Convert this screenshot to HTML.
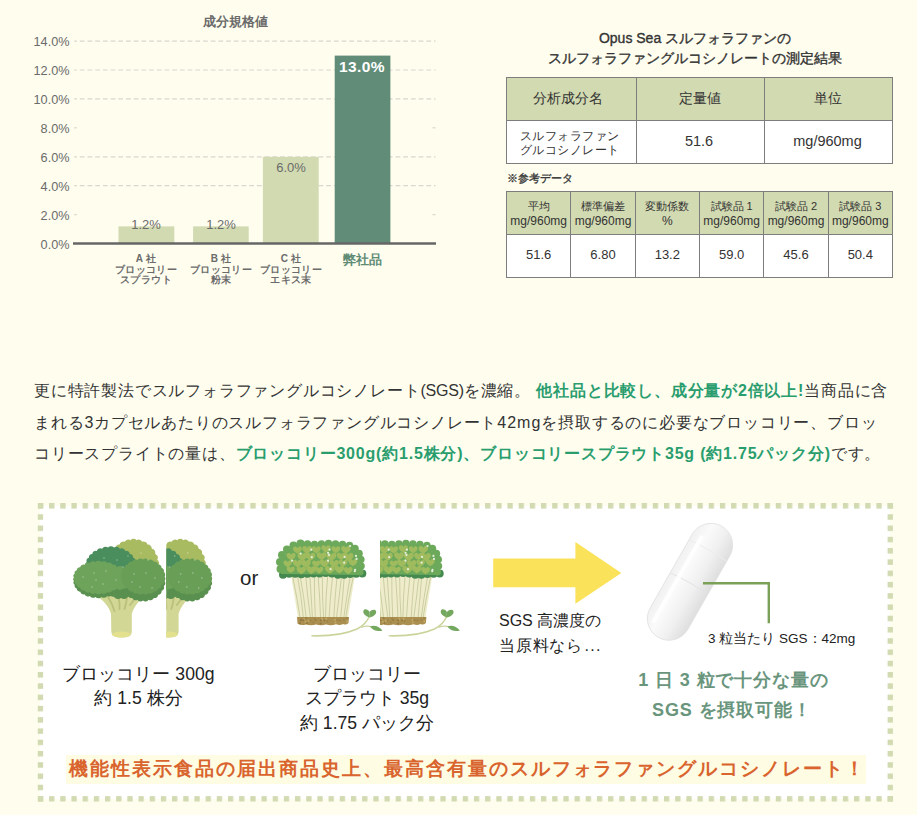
<!DOCTYPE html>
<html lang="ja">
<head>
<meta charset="utf-8">
<style>
html,body{margin:0;padding:0;}
body{width:917px;height:815px;overflow:hidden;position:relative;background:#fefdee;font-family:"Liberation Sans",sans-serif;color:#333;}
.a{position:absolute;white-space:nowrap;}
.c{text-align:center;}
svg{position:absolute;left:0;top:0;}
/* chart */
.yl{position:absolute;right:847.5px;font-size:12.7px;line-height:14px;color:#6b6b6b;text-align:right;}
.xl{position:absolute;width:90px;text-align:center;font-size:10px;letter-spacing:0.35px;text-indent:0.35px;line-height:10.5px;font-weight:bold;color:#6b6b6b;}
/* tables */
table{border-collapse:collapse;position:absolute;table-layout:fixed;}
td{border:1px solid #7d7d7d;text-align:center;padding:0;color:#333;}
.hd td{background:#d2dab1;}
.bd td{background:#fff;}
#t1 td{font-size:14px;}
#t1 .bd td{font-size:14.5px;padding-bottom:3px;}
#t1 .bd td.k{font-size:12.4px;letter-spacing:0.5px;line-height:14px;padding-bottom:0;padding-top:1px;padding-right:4px;}
#t2 td{font-size:11px;line-height:15px;padding-top:2px;}
#t2 td span{font-size:12px;}
#t2 .bd td{font-size:13px;padding-top:0;padding-bottom:3px;}
/* paragraph */
.p{position:absolute;left:34px;font-size:16px;letter-spacing:0.8px;color:#333;line-height:31.5px;white-space:nowrap;}
.g{color:#2a9d6e;font-weight:bold;}
/* box */
.box{position:absolute;left:40px;top:505.6px;width:850px;height:293.4px;background:#fff;}
.dt{position:absolute;background-repeat:repeat-x;}
</style>
</head>
<body>
<!-- chart -->
<svg width="460" height="300" viewBox="0 0 460 300">
 <g stroke="#d8d8cf" stroke-width="1.2" stroke-dasharray="4.8 2.9" stroke-dashoffset="2.1">
  <line x1="74.2" y1="41.1" x2="435.5" y2="41.1"/>
  <line x1="74.2" y1="70" x2="435.5" y2="70"/>
  <line x1="74.2" y1="98.9" x2="435.5" y2="98.9"/>
  <line x1="74.2" y1="156.8" x2="435.5" y2="156.8"/>
  <line x1="74.2" y1="185.7" x2="435.5" y2="185.7"/>
 </g>
 <g stroke="#d8d8cf" stroke-width="1.2">
  <line x1="74.2" y1="127.8" x2="76.9" y2="127.8"/>
  <line x1="432.5" y1="127.8" x2="435.5" y2="127.8"/>
  <line x1="74.2" y1="214.6" x2="76.9" y2="214.6"/>
  <line x1="432.5" y1="214.6" x2="435.5" y2="214.6"/>
 </g>
 <rect x="118.5" y="226.4" width="55.8" height="17.2" fill="#d1dab0"/>
 <rect x="193.1" y="226.4" width="55.6" height="17.2" fill="#d1dab0"/>
 <rect x="262.9" y="156.9" width="55.8" height="86.7" fill="#d1dab0"/>
 <rect x="334.7" y="55.6" width="55.7" height="188" fill="#618d78"/>
 <line x1="73" y1="243.6" x2="436" y2="243.6" stroke="#666" stroke-width="2.5"/>
</svg>
<div class="a c" style="left:185px;width:100px;top:14px;font-size:13px;line-height:16px;font-weight:bold;color:#6b6b6b">成分規格値</div>
<div class="yl" style="top:35px">14.0%</div>
<div class="yl" style="top:64px">12.0%</div>
<div class="yl" style="top:93px">10.0%</div>
<div class="yl" style="top:122px">8.0%</div>
<div class="yl" style="top:151px">6.0%</div>
<div class="yl" style="top:180px">4.0%</div>
<div class="yl" style="top:209px">2.0%</div>
<div class="yl" style="top:238px">0.0%</div>
<div class="a c" style="left:116px;width:60px;top:218px;font-size:13px;line-height:14px;color:#6b6b6b">1.2%</div>
<div class="a c" style="left:191px;width:60px;top:218px;font-size:13px;line-height:14px;color:#6b6b6b">1.2%</div>
<div class="a c" style="left:261px;width:60px;top:161px;font-size:13px;line-height:14px;color:#6b6b6b">6.0%</div>
<div class="a c" style="left:332px;width:60px;top:58px;font-size:15.5px;letter-spacing:0.4px;line-height:17px;font-weight:bold;color:#fff">13.0%</div>
<div class="xl" style="left:101px;top:254px">A 社<br>ブロッコリー<br>スプラウト</div>
<div class="xl" style="left:176px;top:254px">B 社<br>ブロッコリー<br>粉末</div>
<div class="xl" style="left:246px;top:254px">C 社<br>ブロッコリー<br>エキス末</div>
<div class="a c" style="left:317px;width:90px;top:251.5px;font-size:13px;line-height:16px;font-weight:bold;color:#5f8b75">弊社品</div>

<!-- right tables -->
<div class="a c" style="left:545px;width:300px;top:29px;font-size:14px;line-height:19.5px;-webkit-text-stroke:0.35px #333;color:#333">Opus Sea スルフォラファンの<br>スルフォラファングルコシノレートの測定結果</div>
<table id="t1" style="left:506px;top:77px;width:386px;">
 <colgroup><col style="width:130px"><col style="width:128px"><col style="width:128px"></colgroup>
 <tr class="hd" style="height:43px"><td style="padding-right:7.6px">分析成分名</td><td style="padding-right:2px">定量値</td><td style="padding-right:2px">単位</td></tr>
 <tr class="bd" style="height:43px"><td class="k">スルフォラファン<br>グルコシノレート</td><td style="padding-right:3px">51.6</td><td style="padding-right:2px">mg/960mg</td></tr>
</table>
<div class="a" style="left:507px;top:171px;font-size:11px;line-height:14px;-webkit-text-stroke:0.3px #333;color:#333">※参考データ</div>
<table id="t2" style="left:506px;top:191px;width:386px;">
 <colgroup><col style="width:64.33px"><col style="width:64.33px"><col style="width:64.33px"><col style="width:64.33px"><col style="width:64.33px"><col style="width:64.33px"></colgroup>
 <tr class="hd" style="height:43px"><td>平均<br><span>mg/960mg</span></td><td>標準偏差<br><span>mg/960mg</span></td><td>変動係数<br><span>%</span></td><td>試験品 1<br><span>mg/960mg</span></td><td>試験品 2<br><span>mg/960mg</span></td><td>試験品 3<br><span>mg/960mg</span></td></tr>
 <tr class="bd" style="height:43px"><td>51.6</td><td>6.80</td><td>13.2</td><td>59.0</td><td>45.6</td><td>50.4</td></tr>
</table>

<!-- paragraph -->
<div class="p" style="top:375px">更に特許製法でスルフォラファングルコシノレート<span style="letter-spacing:-0.2px">(SGS)</span>を濃縮。 <span class="g">他社品と比較し、成分量が2倍以上!</span>当商品に含<br>まれる3カプセルあたりのスルフォラファングルコシノレート<span style="letter-spacing:1px">42mg</span>を摂取するのに必要なブロッコリー、ブロッ<br>コリースプライトの量は、<span class="g">ブロッコリー300g(約1.5株分)、ブロッコリースプラウト35g (約1.75パック分)</span>です。</div>

<!-- box -->
<div class="box"></div>
<svg width="917" height="815" viewBox="0 0 917 815" style="left:0;top:0">
 <defs>
  <pattern id="ph" x="37.9" y="0" width="11.18" height="20" patternUnits="userSpaceOnUse"><rect x="0" y="0" width="5.3" height="20" fill="#d2dab2"/></pattern>
  <pattern id="pv" x="0" y="503" width="20" height="11.27" patternUnits="userSpaceOnUse"><rect x="0" y="0" width="20" height="5.5" fill="#d2dab2"/></pattern>
 </defs>
 <rect x="37.9" y="503" width="856" height="5.6" fill="url(#ph)"/>
 <rect x="37.9" y="796.1" width="856" height="5.4" fill="url(#ph)"/>
 <rect x="37.8" y="503" width="5.3" height="299" fill="url(#pv)"/>
 <rect x="887.6" y="503" width="5.3" height="299" fill="url(#pv)"/>
</svg>
<!--ILLUS--><svg width="917" height="815" viewBox="0 0 917 815" style="left:0;top:0">
<defs>
 <g id="broc"><path d="M94 594 C103 600 109 606 111 614 L111.3 632 Q111.5 637.5 121.5 637.5 Q131.8 637.5 131.8 632 L131.8 614 C134 606 140 600 146 594 Z" fill="#d2d796"/>
<ellipse cx="121.5" cy="634.5" rx="9.5" ry="3" fill="#e3e08e"/>
<path d="M108 597 Q112 603 114.5 611 M118.5 597 Q120 603 119.5 609 M127 597 Q126.5 603 124.5 609 M137 596 Q133 601 130 605" stroke="#b9c07a" stroke-width="1.8" fill="none" stroke-linecap="round"/>
<path d="M158.0 566.0 A4.1 4.1 0 0 1 157.3 572.2 A4.0 4.0 0 0 1 155.2 578.1 A4.0 4.0 0 0 1 151.8 583.2 A3.9 3.9 0 0 1 147.4 587.4 A3.9 3.9 0 0 1 142.2 590.3 A3.9 3.9 0 0 1 136.5 591.8 A3.8 3.8 0 0 1 130.5 591.8 A3.9 3.9 0 0 1 124.8 590.3 A3.9 3.9 0 0 1 119.6 587.4 A3.9 3.9 0 0 1 115.2 583.2 A4.0 4.0 0 0 1 111.8 578.1 A4.0 4.0 0 0 1 109.7 572.2 A4.1 4.1 0 0 1 109.0 566.0 A4.1 4.1 0 0 1 109.7 559.8 A4.0 4.0 0 0 1 111.8 553.9 A4.0 4.0 0 0 1 115.2 548.8 A3.9 3.9 0 0 1 119.6 544.6 A3.9 3.9 0 0 1 124.8 541.7 A3.9 3.9 0 0 1 130.5 540.2 A3.8 3.8 0 0 1 136.5 540.2 A3.9 3.9 0 0 1 142.2 541.7 A3.9 3.9 0 0 1 147.4 544.6 A3.9 3.9 0 0 1 151.8 548.8 A4.0 4.0 0 0 1 155.2 553.9 A4.0 4.0 0 0 1 157.3 559.8 A4.1 4.1 0 0 1 158.0 566.0Z" fill="#a8bb60"/>
<path d="M136.0 566.5 A3.0 3.0 0 0 1 135.3 571.0 A3.1 3.1 0 0 1 133.1 575.3 A3.3 3.3 0 0 1 129.7 579.1 A3.5 3.5 0 0 1 125.2 582.1 A3.7 3.7 0 0 1 119.9 584.3 A3.9 3.9 0 0 1 114.0 585.4 A3.9 3.9 0 0 1 108.0 585.4 A3.9 3.9 0 0 1 102.1 584.3 A3.7 3.7 0 0 1 96.8 582.1 A3.5 3.5 0 0 1 92.3 579.1 A3.3 3.3 0 0 1 88.9 575.3 A3.1 3.1 0 0 1 86.7 571.0 A3.0 3.0 0 0 1 86.0 566.5 A3.0 3.0 0 0 1 86.7 562.0 A3.1 3.1 0 0 1 88.9 557.7 A3.3 3.3 0 0 1 92.3 553.9 A3.5 3.5 0 0 1 96.8 550.9 A3.7 3.7 0 0 1 102.1 548.7 A3.9 3.9 0 0 1 108.0 547.6 A3.9 3.9 0 0 1 114.0 547.6 A3.9 3.9 0 0 1 119.9 548.7 A3.7 3.7 0 0 1 125.2 550.9 A3.5 3.5 0 0 1 129.7 553.9 A3.3 3.3 0 0 1 133.1 557.7 A3.1 3.1 0 0 1 135.3 562.0 A3.0 3.0 0 0 1 136.0 566.5Z" fill="#4b8e5e"/>
<path d="M123.0 581.0 A2.5 2.5 0 0 1 122.3 584.8 A2.7 2.7 0 0 1 120.2 588.4 A3.0 3.0 0 0 1 116.8 591.6 A3.3 3.3 0 0 1 112.4 594.2 A3.6 3.6 0 0 1 107.2 596.0 A3.8 3.8 0 0 1 101.5 596.9 A3.8 3.8 0 0 1 95.5 596.9 A3.8 3.8 0 0 1 89.8 596.0 A3.6 3.6 0 0 1 84.6 594.2 A3.3 3.3 0 0 1 80.2 591.6 A3.0 3.0 0 0 1 76.8 588.4 A2.7 2.7 0 0 1 74.7 584.8 A2.5 2.5 0 0 1 74.0 581.0 A2.5 2.5 0 0 1 74.7 577.2 A2.7 2.7 0 0 1 76.8 573.6 A3.0 3.0 0 0 1 80.2 570.4 A3.3 3.3 0 0 1 84.6 567.8 A3.6 3.6 0 0 1 89.8 566.0 A3.8 3.8 0 0 1 95.5 565.1 A3.8 3.8 0 0 1 101.5 565.1 A3.8 3.8 0 0 1 107.2 566.0 A3.6 3.6 0 0 1 112.4 567.8 A3.3 3.3 0 0 1 116.8 570.4 A3.0 3.0 0 0 1 120.2 573.6 A2.7 2.7 0 0 1 122.3 577.2 A2.5 2.5 0 0 1 123.0 581.0Z" fill="#5a904f"/>
<path d="M164.5 581.0 A3.3 3.3 0 0 1 163.8 586.0 A3.4 3.4 0 0 1 161.6 590.8 A3.4 3.4 0 0 1 158.2 594.8 A3.5 3.5 0 0 1 153.8 597.9 A3.6 3.6 0 0 1 148.6 599.8 A3.6 3.6 0 0 1 143.0 600.5 A3.6 3.6 0 0 1 137.4 599.8 A3.6 3.6 0 0 1 132.2 597.9 A3.5 3.5 0 0 1 127.8 594.8 A3.4 3.4 0 0 1 124.4 590.8 A3.4 3.4 0 0 1 122.2 586.0 A3.3 3.3 0 0 1 121.5 581.0 A3.3 3.3 0 0 1 122.2 576.0 A3.4 3.4 0 0 1 124.4 571.2 A3.4 3.4 0 0 1 127.8 567.2 A3.5 3.5 0 0 1 132.2 564.1 A3.6 3.6 0 0 1 137.4 562.2 A3.6 3.6 0 0 1 143.0 561.5 A3.6 3.6 0 0 1 148.6 562.2 A3.6 3.6 0 0 1 153.8 564.1 A3.5 3.5 0 0 1 158.2 567.2 A3.4 3.4 0 0 1 161.6 571.2 A3.4 3.4 0 0 1 163.8 576.0 A3.3 3.3 0 0 1 164.5 581.0Z" fill="#5a904f"/>
<path d="M135.0 588.0 A3.5 3.5 0 0 1 133.1 593.0 A4.1 4.1 0 0 1 128.0 596.7 A4.6 4.6 0 0 1 121.0 598.0 A4.6 4.6 0 0 1 114.0 596.7 A4.1 4.1 0 0 1 108.9 593.0 A3.5 3.5 0 0 1 107.0 588.0 A3.5 3.5 0 0 1 108.9 583.0 A4.1 4.1 0 0 1 114.0 579.3 A4.6 4.6 0 0 1 121.0 578.0 A4.6 4.6 0 0 1 128.0 579.3 A4.1 4.1 0 0 1 133.1 583.0 A3.5 3.5 0 0 1 135.0 588.0Z" fill="#5a904f"/>
<path d="M123.0 577.5 A2.5 2.5 0 0 1 122.3 581.2 A2.6 2.6 0 0 1 120.2 584.7 A3.0 3.0 0 0 1 116.8 587.8 A3.3 3.3 0 0 1 112.4 590.3 A3.6 3.6 0 0 1 107.2 592.0 A3.8 3.8 0 0 1 101.5 592.9 A3.8 3.8 0 0 1 95.5 592.9 A3.8 3.8 0 0 1 89.8 592.0 A3.6 3.6 0 0 1 84.6 590.3 A3.3 3.3 0 0 1 80.2 587.8 A3.0 3.0 0 0 1 76.8 584.7 A2.6 2.6 0 0 1 74.7 581.2 A2.5 2.5 0 0 1 74.0 577.5 A2.5 2.5 0 0 1 74.7 573.8 A2.6 2.6 0 0 1 76.8 570.3 A3.0 3.0 0 0 1 80.2 567.2 A3.3 3.3 0 0 1 84.6 564.7 A3.6 3.6 0 0 1 89.8 563.0 A3.8 3.8 0 0 1 95.5 562.1 A3.8 3.8 0 0 1 101.5 562.1 A3.8 3.8 0 0 1 107.2 563.0 A3.6 3.6 0 0 1 112.4 564.7 A3.3 3.3 0 0 1 116.8 567.2 A3.0 3.0 0 0 1 120.2 570.3 A2.6 2.6 0 0 1 122.3 573.8 A2.5 2.5 0 0 1 123.0 577.5Z" fill="#6ea35b"/>
<path d="M130.0 578.0 A4.4 4.4 0 0 1 128.1 584.5 A4.2 4.2 0 0 1 123.1 588.5 A4.0 4.0 0 0 1 116.9 588.5 A4.2 4.2 0 0 1 111.9 584.5 A4.4 4.4 0 0 1 110.0 578.0 A4.4 4.4 0 0 1 111.9 571.5 A4.2 4.2 0 0 1 116.9 567.5 A4.0 4.0 0 0 1 123.1 567.5 A4.2 4.2 0 0 1 128.1 571.5 A4.4 4.4 0 0 1 130.0 578.0Z" fill="#6ea35b"/>
<path d="M164.5 576.5 A2.9 2.9 0 0 1 163.8 580.9 A3.0 3.0 0 0 1 161.6 585.0 A3.2 3.2 0 0 1 158.2 588.5 A3.4 3.4 0 0 1 153.8 591.2 A3.5 3.5 0 0 1 148.6 592.9 A3.6 3.6 0 0 1 143.0 593.5 A3.6 3.6 0 0 1 137.4 592.9 A3.5 3.5 0 0 1 132.2 591.2 A3.4 3.4 0 0 1 127.8 588.5 A3.2 3.2 0 0 1 124.4 585.0 A3.0 3.0 0 0 1 122.2 580.9 A2.9 2.9 0 0 1 121.5 576.5 A2.9 2.9 0 0 1 122.2 572.1 A3.0 3.0 0 0 1 124.4 568.0 A3.2 3.2 0 0 1 127.8 564.5 A3.4 3.4 0 0 1 132.2 561.8 A3.5 3.5 0 0 1 137.4 560.1 A3.6 3.6 0 0 1 143.0 559.5 A3.6 3.6 0 0 1 148.6 560.1 A3.5 3.5 0 0 1 153.8 561.8 A3.4 3.4 0 0 1 158.2 564.5 A3.2 3.2 0 0 1 161.6 568.0 A3.0 3.0 0 0 1 163.8 572.1 A2.9 2.9 0 0 1 164.5 576.5Z" fill="#699e57"/>
<circle cx="83" cy="577" r="0.7" fill="#ffffff" opacity="0.45"/>
<circle cx="94" cy="573" r="0.7" fill="#ffffff" opacity="0.45"/>
<circle cx="106" cy="571" r="0.7" fill="#ffffff" opacity="0.45"/>
<circle cx="116" cy="580" r="0.7" fill="#ffffff" opacity="0.45"/>
<circle cx="92" cy="587" r="0.7" fill="#ffffff" opacity="0.45"/>
<circle cx="103" cy="584" r="0.7" fill="#ffffff" opacity="0.45"/>
<circle cx="123" cy="567" r="0.7" fill="#ffffff" opacity="0.45"/>
<circle cx="134" cy="574" r="0.7" fill="#ffffff" opacity="0.45"/>
<circle cx="146" cy="573" r="0.7" fill="#ffffff" opacity="0.45"/>
<circle cx="155" cy="578" r="0.7" fill="#ffffff" opacity="0.45"/>
<circle cx="140" cy="587" r="0.7" fill="#ffffff" opacity="0.45"/>
<circle cx="152" cy="588" r="0.7" fill="#ffffff" opacity="0.45"/>
<circle cx="128" cy="556" r="0.7" fill="#ffffff" opacity="0.45"/>
<circle cx="141" cy="553" r="0.7" fill="#ffffff" opacity="0.45"/>
<circle cx="148" cy="560" r="0.7" fill="#ffffff" opacity="0.45"/>
<circle cx="104" cy="558" r="0.7" fill="#ffffff" opacity="0.45"/>
<circle cx="117" cy="560" r="0.7" fill="#ffffff" opacity="0.45"/>
<circle cx="96" cy="580" r="0.7" fill="#ffffff" opacity="0.45"/>
<circle cx="132" cy="582" r="0.7" fill="#ffffff" opacity="0.45"/></g>
 <g id="spr"><path d="M291 575 L355 575 L348 618 L298 618 Z" fill="#eeecca"/>
<path d="M292.7 577 Q297.0 597 300.0 617" stroke="#c6cb9e" stroke-width="0.9" fill="none"/>
<path d="M297.7 577 Q301.4 597 303.3 617" stroke="#c6cb9e" stroke-width="0.9" fill="none"/>
<path d="M300.3 577 Q304.1 597 306.1 617" stroke="#c6cb9e" stroke-width="0.9" fill="none"/>
<path d="M305.9 577 Q307.3 597 310.4 617" stroke="#c6cb9e" stroke-width="0.9" fill="none"/>
<path d="M309.9 577 Q311.2 597 312.4 617" stroke="#c6cb9e" stroke-width="0.9" fill="none"/>
<path d="M314.4 577 Q314.3 597 315.3 617" stroke="#c6cb9e" stroke-width="0.9" fill="none"/>
<path d="M318.2 577 Q319.9 597 320.5 617" stroke="#c6cb9e" stroke-width="0.9" fill="none"/>
<path d="M322.3 577 Q322.2 597 323.6 617" stroke="#c6cb9e" stroke-width="0.9" fill="none"/>
<path d="M327.6 577 Q325.6 597 325.6 617" stroke="#c6cb9e" stroke-width="0.9" fill="none"/>
<path d="M332.5 577 Q330.2 597 329.1 617" stroke="#c6cb9e" stroke-width="0.9" fill="none"/>
<path d="M337.0 577 Q335.0 597 333.8 617" stroke="#c6cb9e" stroke-width="0.9" fill="none"/>
<path d="M341.4 577 Q339.3 597 336.5 617" stroke="#c6cb9e" stroke-width="0.9" fill="none"/>
<path d="M344.2 577 Q342.8 597 340.7 617" stroke="#c6cb9e" stroke-width="0.9" fill="none"/>
<path d="M350.1 577 Q346.6 597 343.9 617" stroke="#c6cb9e" stroke-width="0.9" fill="none"/>
<path d="M353.2 577 Q348.8 597 345.8 617" stroke="#c6cb9e" stroke-width="0.9" fill="none"/>
<path d="M297 617 L349 617 L348.5 623 Q346 625.5 343 624 Q340 626 336 624.3 Q331 626 326 624.5 Q321 626 316 624.5 Q311 626 306 624.5 Q301 626 297.5 623.5 Z" fill="#ab8f50"/>
<circle cx="301.3" cy="619.5" r="1" fill="#9a8246"/>
<circle cx="327.3" cy="621.3" r="1" fill="#9a8246"/>
<circle cx="314.9" cy="619.6" r="1" fill="#c2a865"/>
<circle cx="322.0" cy="619.6" r="1" fill="#c2a865"/>
<circle cx="321.6" cy="618.8" r="1" fill="#c2a865"/>
<circle cx="346.8" cy="617.9" r="1" fill="#9a8246"/>
<circle cx="315.9" cy="620.1" r="1" fill="#9a8246"/>
<circle cx="337.4" cy="619.9" r="1" fill="#9a8246"/>
<circle cx="340.1" cy="620.4" r="1" fill="#9a8246"/>
<circle cx="307.0" cy="623.3" r="1" fill="#8e7840"/>
<circle cx="304.0" cy="619.2" r="1" fill="#c2a865"/>
<circle cx="315.2" cy="619.9" r="1" fill="#9a8246"/>
<circle cx="310.5" cy="620.5" r="1" fill="#9a8246"/>
<circle cx="335.4" cy="622.4" r="1" fill="#c2a865"/>
<circle cx="299.8" cy="623.3" r="1" fill="#8e7840"/>
<circle cx="308.4" cy="620.8" r="1" fill="#c2a865"/>
<circle cx="343.9" cy="619.8" r="1" fill="#9a8246"/>
<circle cx="325.3" cy="619.6" r="1" fill="#c2a865"/>
<circle cx="313.3" cy="622.4" r="1" fill="#9a8246"/>
<circle cx="305.4" cy="621.8" r="1" fill="#c2a865"/>
<circle cx="306.1" cy="618.1" r="1" fill="#9a8246"/>
<circle cx="324.7" cy="620.2" r="1" fill="#8e7840"/>
<circle cx="335.0" cy="619.8" r="1" fill="#c2a865"/>
<circle cx="320.8" cy="620.2" r="1" fill="#8e7840"/>
<circle cx="347.0" cy="621.5" r="1" fill="#c2a865"/>
<circle cx="314.7" cy="619.0" r="1" fill="#9a8246"/>
<circle cx="326.2" cy="618.6" r="1" fill="#c2a865"/>
<circle cx="303.3" cy="620.3" r="1" fill="#8e7840"/>
<circle cx="300.9" cy="620.2" r="1" fill="#8e7840"/>
<circle cx="320.7" cy="623.6" r="1" fill="#8e7840"/>
<circle cx="283.0" cy="574.8" r="4" fill="#44894f"/>
<circle cx="289.1" cy="573.7" r="4" fill="#44894f"/>
<circle cx="295.2" cy="573.8" r="4" fill="#44894f"/>
<circle cx="301.3" cy="574.3" r="4" fill="#44894f"/>
<circle cx="307.4" cy="573.8" r="4" fill="#44894f"/>
<circle cx="313.5" cy="573.4" r="4" fill="#44894f"/>
<circle cx="319.6" cy="573.6" r="4" fill="#44894f"/>
<circle cx="325.7" cy="573.1" r="4" fill="#44894f"/>
<circle cx="331.8" cy="573.6" r="4" fill="#44894f"/>
<circle cx="337.9" cy="574.8" r="4" fill="#44894f"/>
<circle cx="344.0" cy="574.7" r="4" fill="#44894f"/>
<circle cx="350.1" cy="574.1" r="4" fill="#44894f"/>
<circle cx="356.2" cy="573.8" r="4" fill="#44894f"/>
<circle cx="362.3" cy="573.5" r="4" fill="#44894f"/>
<polygon points="281.0,574.0 280.5,565.0 283.0,557.0 289.0,549.5 296.5,545.0 304.0,543.0 311.0,544.0 318.0,544.5 325.0,543.5 332.0,543.2 339.0,544.0 346.0,545.0 352.5,547.0 357.5,551.0 360.5,557.0 361.0,564.0 360.5,571.0 358.0,575.0" fill="#6ca95b"/>
<circle cx="280.5" cy="569.0" r="4.0" fill="#6ca95b"/>
<circle cx="280.0" cy="562.0" r="4.0" fill="#6ca95b"/>
<circle cx="282.0" cy="555.0" r="4.0" fill="#6ca95b"/>
<circle cx="287.0" cy="549.5" r="4.0" fill="#6ca95b"/>
<circle cx="293.5" cy="545.5" r="4.0" fill="#6ca95b"/>
<circle cx="300.5" cy="543.5" r="4.0" fill="#6ca95b"/>
<circle cx="307.5" cy="544.0" r="3.8" fill="#6ca95b"/>
<circle cx="314.5" cy="544.5" r="3.8" fill="#6ca95b"/>
<circle cx="321.5" cy="544.0" r="3.8" fill="#6ca95b"/>
<circle cx="328.5" cy="543.5" r="3.8" fill="#6ca95b"/>
<circle cx="335.5" cy="544.0" r="3.8" fill="#6ca95b"/>
<circle cx="342.5" cy="544.5" r="3.8" fill="#6ca95b"/>
<circle cx="349.5" cy="545.5" r="3.8" fill="#6ca95b"/>
<circle cx="355.0" cy="548.5" r="3.8" fill="#6ca95b"/>
<circle cx="359.0" cy="553.5" r="3.8" fill="#6ca95b"/>
<circle cx="360.8" cy="559.5" r="3.8" fill="#6ca95b"/>
<circle cx="361.0" cy="566.0" r="3.8" fill="#6ca95b"/>
<circle cx="360.0" cy="572.0" r="3.6" fill="#6ca95b"/>
<path transform="translate(297.4 549.2) scale(1.04)" d="M0 -1 C-1.2 -3.6 -4.8 -3 -4.2 0.3 C-3.7 2.2 -1.6 3.2 0 4.4 C1.6 3.2 3.7 2.2 4.2 0.3 C4.8 -3 1.2 -3.6 0 -1Z" fill="#a0bb5d"/>
<path transform="translate(307.1 549.0) scale(1.12)" d="M0 -1 C-1.2 -3.6 -4.8 -3 -4.2 0.3 C-3.7 2.2 -1.6 3.2 0 4.4 C1.6 3.2 3.7 2.2 4.2 0.3 C4.8 -3 1.2 -3.6 0 -1Z" fill="#a0bb5d"/>
<path transform="translate(316.3 549.0) scale(1.04)" d="M0 -1 C-1.2 -3.6 -4.8 -3 -4.2 0.3 C-3.7 2.2 -1.6 3.2 0 4.4 C1.6 3.2 3.7 2.2 4.2 0.3 C4.8 -3 1.2 -3.6 0 -1Z" fill="#a0bb5d"/>
<path transform="translate(326.0 548.1) scale(1.07)" d="M0 -1 C-1.2 -3.6 -4.8 -3 -4.2 0.3 C-3.7 2.2 -1.6 3.2 0 4.4 C1.6 3.2 3.7 2.2 4.2 0.3 C4.8 -3 1.2 -3.6 0 -1Z" fill="#a0bb5d"/>
<path transform="translate(335.8 548.9) scale(1.02)" d="M0 -1 C-1.2 -3.6 -4.8 -3 -4.2 0.3 C-3.7 2.2 -1.6 3.2 0 4.4 C1.6 3.2 3.7 2.2 4.2 0.3 C4.8 -3 1.2 -3.6 0 -1Z" fill="#a0bb5d"/>
<path transform="translate(345.9 548.8) scale(1.10)" d="M0 -1 C-1.2 -3.6 -4.8 -3 -4.2 0.3 C-3.7 2.2 -1.6 3.2 0 4.4 C1.6 3.2 3.7 2.2 4.2 0.3 C4.8 -3 1.2 -3.6 0 -1Z" fill="#a0bb5d"/>
<path transform="translate(291.1 555.8) scale(1.07)" d="M0 -1 C-1.2 -3.6 -4.8 -3 -4.2 0.3 C-3.7 2.2 -1.6 3.2 0 4.4 C1.6 3.2 3.7 2.2 4.2 0.3 C4.8 -3 1.2 -3.6 0 -1Z" fill="#a0bb5d"/>
<path transform="translate(302.4 555.8) scale(1.15)" d="M0 -1 C-1.2 -3.6 -4.8 -3 -4.2 0.3 C-3.7 2.2 -1.6 3.2 0 4.4 C1.6 3.2 3.7 2.2 4.2 0.3 C4.8 -3 1.2 -3.6 0 -1Z" fill="#a0bb5d"/>
<path transform="translate(310.5 555.8) scale(1.13)" d="M0 -1 C-1.2 -3.6 -4.8 -3 -4.2 0.3 C-3.7 2.2 -1.6 3.2 0 4.4 C1.6 3.2 3.7 2.2 4.2 0.3 C4.8 -3 1.2 -3.6 0 -1Z" fill="#a0bb5d"/>
<path transform="translate(321.6 555.2) scale(1.16)" d="M0 -1 C-1.2 -3.6 -4.8 -3 -4.2 0.3 C-3.7 2.2 -1.6 3.2 0 4.4 C1.6 3.2 3.7 2.2 4.2 0.3 C4.8 -3 1.2 -3.6 0 -1Z" fill="#a0bb5d"/>
<path transform="translate(331.3 555.9) scale(1.19)" d="M0 -1 C-1.2 -3.6 -4.8 -3 -4.2 0.3 C-3.7 2.2 -1.6 3.2 0 4.4 C1.6 3.2 3.7 2.2 4.2 0.3 C4.8 -3 1.2 -3.6 0 -1Z" fill="#a0bb5d"/>
<path transform="translate(341.2 555.5) scale(1.08)" d="M0 -1 C-1.2 -3.6 -4.8 -3 -4.2 0.3 C-3.7 2.2 -1.6 3.2 0 4.4 C1.6 3.2 3.7 2.2 4.2 0.3 C4.8 -3 1.2 -3.6 0 -1Z" fill="#a0bb5d"/>
<path transform="translate(348.4 556.2) scale(1.18)" d="M0 -1 C-1.2 -3.6 -4.8 -3 -4.2 0.3 C-3.7 2.2 -1.6 3.2 0 4.4 C1.6 3.2 3.7 2.2 4.2 0.3 C4.8 -3 1.2 -3.6 0 -1Z" fill="#a0bb5d"/>
<path transform="translate(287.7 563.0) scale(0.99)" d="M0 -1 C-1.2 -3.6 -4.8 -3 -4.2 0.3 C-3.7 2.2 -1.6 3.2 0 4.4 C1.6 3.2 3.7 2.2 4.2 0.3 C4.8 -3 1.2 -3.6 0 -1Z" fill="#a0bb5d"/>
<path transform="translate(297.4 562.7) scale(1.12)" d="M0 -1 C-1.2 -3.6 -4.8 -3 -4.2 0.3 C-3.7 2.2 -1.6 3.2 0 4.4 C1.6 3.2 3.7 2.2 4.2 0.3 C4.8 -3 1.2 -3.6 0 -1Z" fill="#a0bb5d"/>
<path transform="translate(306.0 562.7) scale(1.14)" d="M0 -1 C-1.2 -3.6 -4.8 -3 -4.2 0.3 C-3.7 2.2 -1.6 3.2 0 4.4 C1.6 3.2 3.7 2.2 4.2 0.3 C4.8 -3 1.2 -3.6 0 -1Z" fill="#a0bb5d"/>
<path transform="translate(316.2 562.9) scale(0.96)" d="M0 -1 C-1.2 -3.6 -4.8 -3 -4.2 0.3 C-3.7 2.2 -1.6 3.2 0 4.4 C1.6 3.2 3.7 2.2 4.2 0.3 C4.8 -3 1.2 -3.6 0 -1Z" fill="#a0bb5d"/>
<path transform="translate(324.4 562.4) scale(1.11)" d="M0 -1 C-1.2 -3.6 -4.8 -3 -4.2 0.3 C-3.7 2.2 -1.6 3.2 0 4.4 C1.6 3.2 3.7 2.2 4.2 0.3 C4.8 -3 1.2 -3.6 0 -1Z" fill="#a0bb5d"/>
<path transform="translate(334.2 562.9) scale(1.11)" d="M0 -1 C-1.2 -3.6 -4.8 -3 -4.2 0.3 C-3.7 2.2 -1.6 3.2 0 4.4 C1.6 3.2 3.7 2.2 4.2 0.3 C4.8 -3 1.2 -3.6 0 -1Z" fill="#a0bb5d"/>
<path transform="translate(343.2 562.4) scale(1.01)" d="M0 -1 C-1.2 -3.6 -4.8 -3 -4.2 0.3 C-3.7 2.2 -1.6 3.2 0 4.4 C1.6 3.2 3.7 2.2 4.2 0.3 C4.8 -3 1.2 -3.6 0 -1Z" fill="#a0bb5d"/>
<path transform="translate(352.9 561.8) scale(1.03)" d="M0 -1 C-1.2 -3.6 -4.8 -3 -4.2 0.3 C-3.7 2.2 -1.6 3.2 0 4.4 C1.6 3.2 3.7 2.2 4.2 0.3 C4.8 -3 1.2 -3.6 0 -1Z" fill="#a0bb5d"/>
<path transform="translate(290.8 568.9) scale(0.96)" d="M0 -1 C-1.2 -3.6 -4.8 -3 -4.2 0.3 C-3.7 2.2 -1.6 3.2 0 4.4 C1.6 3.2 3.7 2.2 4.2 0.3 C4.8 -3 1.2 -3.6 0 -1Z" fill="#a0bb5d"/>
<path transform="translate(301.3 569.3) scale(1.10)" d="M0 -1 C-1.2 -3.6 -4.8 -3 -4.2 0.3 C-3.7 2.2 -1.6 3.2 0 4.4 C1.6 3.2 3.7 2.2 4.2 0.3 C4.8 -3 1.2 -3.6 0 -1Z" fill="#a0bb5d"/>
<path transform="translate(311.3 569.0) scale(1.18)" d="M0 -1 C-1.2 -3.6 -4.8 -3 -4.2 0.3 C-3.7 2.2 -1.6 3.2 0 4.4 C1.6 3.2 3.7 2.2 4.2 0.3 C4.8 -3 1.2 -3.6 0 -1Z" fill="#a0bb5d"/>
<path transform="translate(319.1 569.3) scale(1.02)" d="M0 -1 C-1.2 -3.6 -4.8 -3 -4.2 0.3 C-3.7 2.2 -1.6 3.2 0 4.4 C1.6 3.2 3.7 2.2 4.2 0.3 C4.8 -3 1.2 -3.6 0 -1Z" fill="#a0bb5d"/>
<path transform="translate(329.9 568.7) scale(1.16)" d="M0 -1 C-1.2 -3.6 -4.8 -3 -4.2 0.3 C-3.7 2.2 -1.6 3.2 0 4.4 C1.6 3.2 3.7 2.2 4.2 0.3 C4.8 -3 1.2 -3.6 0 -1Z" fill="#a0bb5d"/>
<path transform="translate(339.4 568.6) scale(1.10)" d="M0 -1 C-1.2 -3.6 -4.8 -3 -4.2 0.3 C-3.7 2.2 -1.6 3.2 0 4.4 C1.6 3.2 3.7 2.2 4.2 0.3 C4.8 -3 1.2 -3.6 0 -1Z" fill="#a0bb5d"/>
<path transform="translate(348.2 569.6) scale(1.03)" d="M0 -1 C-1.2 -3.6 -4.8 -3 -4.2 0.3 C-3.7 2.2 -1.6 3.2 0 4.4 C1.6 3.2 3.7 2.2 4.2 0.3 C4.8 -3 1.2 -3.6 0 -1Z" fill="#a0bb5d"/>
<circle cx="344.6" cy="556.9" r="1.1" fill="#e6f0dc"/>
<circle cx="344.2" cy="562.7" r="1.1" fill="#e6f0dc"/>
<circle cx="311.3" cy="549.7" r="1.1" fill="#e6f0dc"/>
<circle cx="328.1" cy="560.7" r="1.1" fill="#e6f0dc"/>
<circle cx="354.8" cy="571.2" r="1.1" fill="#e6f0dc"/>
<circle cx="329.0" cy="555.1" r="1.1" fill="#e6f0dc"/>
<circle cx="350.1" cy="546.0" r="1.1" fill="#e6f0dc"/>
<circle cx="292.0" cy="560.7" r="1.1" fill="#e6f0dc"/>
<circle cx="329.5" cy="549.7" r="1.1" fill="#e6f0dc"/>
<circle cx="330.6" cy="569.2" r="1.1" fill="#e6f0dc"/>
<circle cx="311.8" cy="557.2" r="1.1" fill="#e6f0dc"/>
<circle cx="300.7" cy="553.6" r="1.1" fill="#e6f0dc"/>
<circle cx="356.0" cy="555.9" r="1.1" fill="#e6f0dc"/>
<circle cx="355.1" cy="569.8" r="1.1" fill="#e6f0dc"/>
<circle cx="328.1" cy="552.8" r="1.1" fill="#e6f0dc"/>
<circle cx="356.6" cy="558.9" r="1.1" fill="#e6f0dc"/>
<path d="M312 635.8 Q340 636.5 357 629 Q366 624.5 369.5 616" stroke="#cbd49c" stroke-width="1.6" fill="none" stroke-linecap="round"/>
<path d="M361 627.5 Q367 625 372 627" stroke="#cbd49c" stroke-width="1.3" fill="none"/>
<path d="M369.5 617.5 C365 616 362.5 613 363.5 610.5 C364.5 608.5 368 609 369.5 612 Z" fill="#74a85f"/>
<path d="M369.5 617.5 C374 616.5 377 613.5 376 611 C375 609 371.5 609.5 369.5 612 Z" fill="#74a85f"/>
<path d="M370 626.5 C374 624.5 379 626 382.5 630.5 C377.5 632 373 630.5 370 626.5Z" fill="#74a85f"/></g>
 <clipPath id="cbh"><rect x="119.5" y="530" width="60" height="120"/></clipPath>
 <clipPath id="csp"><rect x="302.6" y="530" width="100" height="120"/></clipPath>
 <linearGradient id="capg" x1="0" y1="0" x2="0" y2="1">
  <stop offset="0" stop-color="#f1f1f1"/><stop offset="0.3" stop-color="#fafafa"/><stop offset="0.65" stop-color="#f0f0f0"/><stop offset="1" stop-color="#dedede"/>
 </linearGradient>
</defs>
<use href="#broc"/>
<g transform="translate(46.8 0)"><use href="#broc" clip-path="url(#cbh)"/></g>
<use href="#spr"/>
<g transform="translate(77.4 0)"><use href="#spr" clip-path="url(#csp)"/></g>
<path d="M493.2 558.4 H575.4 V542.1 L621.3 573 L575.4 603.8 V587.2 H493.2 Z" fill="#fae25a"/>
<g transform="translate(690 581.8) rotate(-60.3)">
 <rect x="-64" y="-21.7" width="128" height="43.4" rx="21.7" fill="url(#capg)" stroke="#e2e2e2" stroke-width="0.8"/>
 <path d="M-2 -21.5 Q0 0 -2 21.5" stroke="#e2e2e2" stroke-width="1" fill="none"/>
 <path d="M36 -21 Q38 0 36 21" stroke="#ececec" stroke-width="1" fill="none"/>
 <path d="M-52 -12 H44" stroke="#ffffff" stroke-width="4.5" stroke-linecap="round" opacity="0.9"/>
</g>
<path d="M703 583.2 H768.8 V623.3" stroke="#7ba05a" stroke-width="2.4" fill="none"/>
</svg><!--/ILLUS-->
<div class="a" style="left:65.5px;top:755px;width:800.5px;height:29px;background:#fefce2"></div>
<div class="a" style="left:69px;top:756px;font-size:19.2px;line-height:25px;letter-spacing:1.98px;font-weight:bold;color:#d9642e">機能性表示食品の届出商品史上、最高含有量のスルフォラファングルコシノレート！</div>
<div class="a" style="left:240px;top:566px;font-size:20.5px;line-height:24px;color:#222">or</div>
<div class="a c" style="left:38.5px;width:200px;top:662px;font-size:17.6px;line-height:24.4px;color:#222">ブロッコリー 300g<br>約 1.5 株分</div>
<div class="a c" style="left:267px;width:200px;top:662px;font-size:17.6px;line-height:24.4px;color:#222">ブロッコリー<br>スプラウト 35g<br>約 1.75 パック分</div>
<div class="a" style="left:499px;top:609px;font-size:16px;line-height:24.7px;color:#222">SGS 高濃度の<br><span style="letter-spacing:0.8px">当原料なら</span><span style="letter-spacing:1.3px;margin-left:1.5px">...</span></div>
<div class="a" style="left:708px;top:630.5px;font-size:13.5px;line-height:16px;color:#222">3 粒当たり SGS：42mg</div>
<div class="a c" style="left:633.5px;width:200px;top:665.5px;font-size:18px;line-height:29.8px;letter-spacing:0.9px;font-weight:bold;color:#6a957d">1 日 3 粒で十分な量の</div>
<div class="a c" style="left:632px;width:200px;top:696.3px;font-size:18px;line-height:29.8px;letter-spacing:0.9px;font-weight:bold;color:#6a957d">SGS を摂取可能！</div>
</body>
</html>
